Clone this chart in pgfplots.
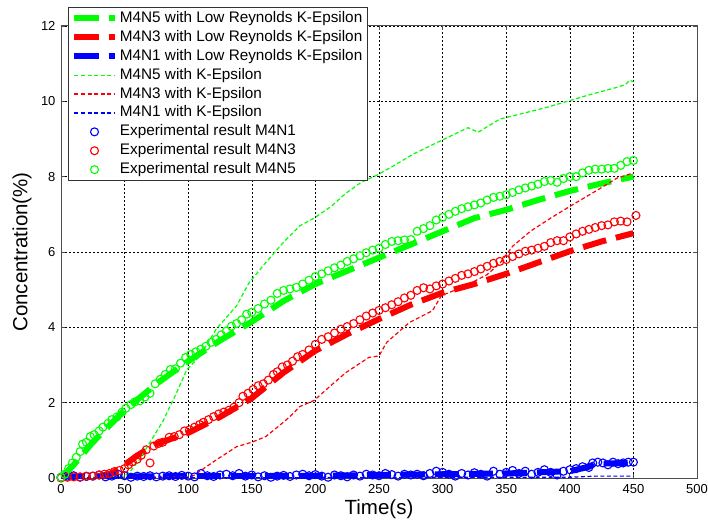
\documentclass[border=0pt]{standalone}
\usepackage{fontspec}
\setmainfont{Liberation Sans}
\usepackage{pgfplots}
\pgfplotsset{compat=1.18}
\begin{document}
\begin{tikzpicture}
\useasboundingbox (-61pt,-44pt) rectangle (647pt,478pt);
\begin{axis}[
  at={(0pt,0pt)}, anchor=south west,
  scale only axis, width=636pt, height=452pt,
  xmin=0, xmax=500, ymin=0, ymax=12,
  xtick={0,50,...,500}, ytick={0,2,...,12},
  /pgf/number format/assume math mode=true,
  grid=major,
  major grid style={black, line width=0.6pt, dash pattern=on 2pt off 2pt},
  axis line style={black!70, line width=1pt},
  tick style={black!70, line width=0.8pt},
  tick align=inside, major tick length=4pt,
  ticklabel style={font=\fontsize{13}{13}\selectfont},
  xticklabel style={yshift=-3pt},
  yticklabel style={xshift=-2pt},
  xlabel={Time(s)}, ylabel={Concentration(\%)},
  label style={font=\fontsize{20.5}{20.5}\selectfont},
  xlabel style={at={(axis description cs:0.5,-0.068)}, anchor=center},
  ylabel style={at={(axis description cs:-0.0613,0.5)}, anchor=center},
  legend cell align=left,
  legend image code/.code={\draw[mark repeat=2,mark phase=2,#1] plot coordinates {(0pt,0pt) (20pt,0pt) (40pt,0pt)};},
  legend style={at={(axis description cs:0,1)}, anchor=north west, xshift=7pt, yshift=19pt,
    draw=black!80, line width=1pt, fill=white,
    font=\fontsize{15.3}{15.3}\selectfont,
    nodes={text height=11pt, text depth=3pt, inner sep=2.45pt},
    inner xsep=3pt, inner ysep=1.5pt, row sep=0pt},
]
% Low Reynolds K-Epsilon (thick dashed)
\addplot[green, line width=6pt, dash pattern=on 24pt off 10pt] coordinates {
(0,0) (10,0.35) (25,0.95) (50,1.8) (75,2.5) (100,3.1) (125,3.65) (150,4.15) (175,4.7) (200,5.15)
(225,5.5) (250,5.85) (275,6.2) (300,6.55) (325,6.9) (350,7.12) (375,7.38) (400,7.62) (425,7.82) (450,8.0)};
\addlegendentry{M4N5 with Low Reynolds K-Epsilon}
\addplot[red, line width=6pt, dash pattern=on 24pt off 10pt] coordinates {
(0,0) (15,0.0) (30,0.05) (40,0.12) (50,0.35) (60,0.6) (75,0.9) (100,1.2) (125,1.62) (150,2.12) (175,2.8)
(200,3.38) (225,3.82) (250,4.22) (275,4.6) (300,4.92) (325,5.15) (350,5.42) (375,5.72) (400,6.02) (425,6.28) (450,6.5)};
\addlegendentry{M4N3 with Low Reynolds K-Epsilon}
\addplot[blue, line width=6pt, dash pattern=on 24pt off 10pt] coordinates {
(0,0.02) (50,0.04) (100,0.05) (150,0.05) (200,0.06) (250,0.08) (300,0.1) (350,0.12) (400,0.18) (415,0.3) (420,0.38) (450,0.4)};
\addlegendentry{M4N1 with Low Reynolds K-Epsilon}
% K-Epsilon (thin dashed)
\addplot[green, line width=1.2pt, dash pattern=on 4pt off 2.5pt] coordinates {
(0,0) (20,0.02) (45,0.04) (50,0.05) (55,0.2) (62,0.5) (70,0.95) (80,1.5) (90,2.2) (99,2.88) (109,3.23)
(122,3.95) (138,4.57) (148,5.19) (161,5.72) (175,6.26) (188,6.7) (199,6.9) (212,7.2) (224,7.56)
(236,7.85) (249,8.05) (262,8.3) (277,8.6) (299,8.96) (320,9.3) (328,9.18) (345,9.53) (362,9.67)
(383,9.85) (400,10.02) (417,10.19) (437,10.37) (444,10.45) (447,10.56) (450,10.52)};
\addlegendentry{M4N5 with K-Epsilon}
\addplot[red, line width=1.2pt, dash pattern=on 4pt off 2.5pt] coordinates {
(0,0) (50,0.02) (100,0.03) (105,0.08) (110,0.2) (122,0.48) (138,0.83) (150,0.95) (161,1.1) (172,1.4)
(180,1.63) (188,1.9) (199,2.06) (212,2.45) (224,2.8) (242,3.2) (250,3.24) (256,3.6) (274,4.13)
(292,4.44) (299,4.84) (318,5.1) (335,5.4) (345,5.7) (355,6.15) (369,6.55) (385,6.9) (400,7.21)
(422,7.65) (437,7.96) (450,8.1)};
\addlegendentry{M4N3 with K-Epsilon}
\addplot[blue, line width=1.2pt, dash pattern=on 4pt off 2.5pt] coordinates {
(0,0) (100,0.01) (200,0.01) (300,0.02) (400,0.02) (420,0.05) (450,0.05)};
\addlegendentry{M4N1 with K-Epsilon}
% Experimental
\addplot[blue, only marks, mark=o, mark size=4pt, mark options={line width=1.1pt}] coordinates {
(0,0.02) (5,0.05) (10,0.06) (15,0.02) (20,0.04) (25,0.05) (30,0.08) (35,0.03) (40,0.05) (45,0.1)
(50,0.06) (55,0.02) (60,0.05) (65,0.04) (70,0.06) (75,0.03) (80,0.05) (85,0.06) (90,0.04) (95,0.07)
(100,0.05) (105,0.03) (110,0.12) (115,0.06) (120,0.04) (125,0.08) (130,0.1) (135,0.06) (140,0.12)
(145,0.05) (150,0.08) (155,0.03) (160,0.06) (165,0.02) (170,0.05) (175,0.07) (180,0.04) (185,0.08)
(190,0.1) (195,0.06) (200,0.09) (205,0.05) (210,0.02) (215,0.08) (220,0.06) (225,0.03) (230,0.08)
(235,0.05) (240,0.1) (245,0.08) (250,0.06) (255,0.12) (260,0.09) (265,0.05) (270,0.1) (275,0.08)
(280,0.1) (285,0.06) (290,0.12) (295,0.18) (300,0.15) (305,0.1) (310,0.05) (315,0.12) (320,0.08)
(325,0.14) (330,0.1) (335,0.05) (340,0.18) (345,0.1) (350,0.15) (355,0.2) (360,0.12) (365,0.18)
(370,0.1) (375,0.15) (380,0.22) (385,0.15) (390,0.08) (395,0.18) (400,0.22) (405,0.25) (410,0.3)
(415,0.28) (418,0.4) (422,0.42) (426,0.4) (430,0.35) (434,0.42) (438,0.38) (442,0.4) (446,0.42) (450,0.42)};
\addlegendentry{Experimental result M4N1}
\addplot[red, only marks, mark=o, mark size=4pt, mark options={line width=1.1pt}] coordinates {
(0,0.0) (5,0.02) (10,0.03) (15,0.03) (20,0.05) (25,0.05) (30,0.08) (34,0.1) (38,0.12) (42,0.17)
(46,0.2) (50,0.25) (53,0.35) (56,0.43) (60,0.5) (63,0.6) (67,0.75) (70,0.4) (73,0.85) (77,0.92)
(80,0.95) (85,1.08) (89,1.1) (93,1.15) (97,1.25) (101,1.28) (105,1.35) (109,1.42) (112,1.48)
(116,1.55) (120,1.63) (124,1.7) (128,1.75) (132,1.8) (136,1.88) (140,2.0) (143,2.17) (147,2.25)
(151,2.35) (155,2.45) (159,2.5) (163,2.6) (167,2.75) (170,2.82) (174,2.95) (178,3.0) (182,3.1)
(186,3.22) (190,3.28) (195,3.4) (200,3.55) (205,3.68) (210,3.75) (215,3.85) (220,3.95) (225,4.02)
(230,4.1) (235,4.2) (240,4.3) (245,4.38) (250,4.45) (255,4.52) (260,4.6) (265,4.68) (270,4.78)
(275,4.85) (280,4.98) (285,5.05) (290,5.02) (295,5.1) (300,5.15) (305,5.23) (310,5.3) (315,5.38)
(320,5.42) (325,5.48) (330,5.55) (335,5.62) (340,5.7) (345,5.75) (350,5.8) (355,5.88) (360,5.95)
(365,6.02) (370,6.05) (375,6.1) (380,6.15) (385,6.25) (390,6.3) (395,6.3) (400,6.4) (405,6.48)
(410,6.55) (415,6.6) (420,6.65) (425,6.7) (430,6.72) (435,6.8) (440,6.82) (445,6.8) (452,6.97)};
\addlegendentry{Experimental result M4N3}
\addplot[green, only marks, mark=o, mark size=4pt, mark options={line width=1.1pt}] coordinates {
(0,0.02) (3,0.1) (6,0.25) (9,0.4) (12,0.55) (15,0.7) (17,0.9) (20,0.95) (23,1.1) (26,1.15) (30,1.25)
(33,1.35) (37,1.45) (40,1.55) (44,1.62) (48,1.75) (51,1.85) (55,1.95) (58,2.02) (62,2.05) (66,2.15)
(70,2.25) (74,2.5) (78,2.62) (82,2.75) (86,2.88) (90,2.9) (94,3.05) (98,3.2) (102,3.28) (106,3.35)
(110,3.42) (114,3.5) (118,3.6) (122,3.68) (126,3.8) (130,3.9) (134,4.03) (138,4.1) (142,4.2)
(146,4.35) (150,4.4) (155,4.5) (160,4.62) (165,4.72) (170,4.9) (175,4.98) (180,5.02) (185,5.06)
(190,5.15) (195,5.25) (200,5.35) (205,5.42) (210,5.5) (215,5.58) (220,5.65) (225,5.75) (230,5.82)
(235,5.9) (240,5.98) (245,6.05) (250,6.1) (255,6.2) (260,6.28) (265,6.3) (270,6.32) (275,6.33)
(280,6.55) (285,6.62) (290,6.7) (295,6.85) (300,6.92) (305,7.0) (310,7.08) (315,7.15) (320,7.2)
(325,7.25) (330,7.3) (335,7.38) (340,7.45) (345,7.48) (350,7.52) (355,7.58) (360,7.65) (365,7.7)
(370,7.75) (375,7.8) (380,7.87) (385,7.9) (390,7.85) (395,7.95) (400,8.0) (405,8.0) (410,8.1)
(415,8.17) (420,8.2) (425,8.2) (430,8.22) (435,8.22) (440,8.3) (445,8.4) (450,8.43)};
\addlegendentry{Experimental result M4N5}
\end{axis}
\end{tikzpicture}
\end{document}
